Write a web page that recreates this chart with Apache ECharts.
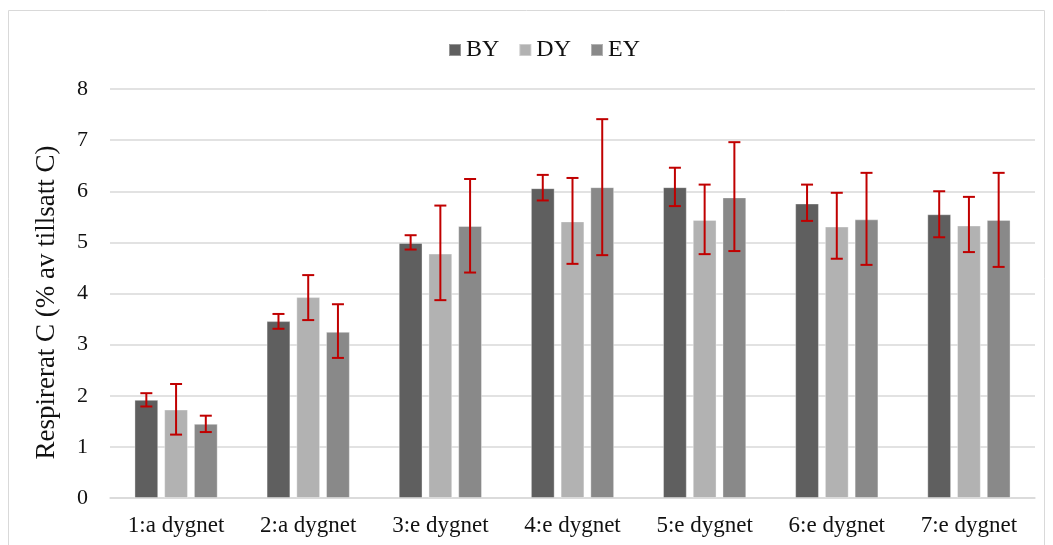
<!DOCTYPE html>
<html>
<head>
<meta charset="utf-8">
<script src="https://cdn.jsdelivr.net/npm/echarts@6/dist/echarts.min.js"></script>
<style>
  html, body { margin: 0; padding: 0; background: #fff; }
  #chart { width: 1053px; height: 545px; }
</style>
</head>
<body>
<div id="chart"></div>
<script>
  var days = ['1:a dygnet', '2:a dygnet', '3:e dygnet', '4:e dygnet', '5:e dygnet', '6:e dygnet', '7:e dygnet'];
  var seriesNames = ['BY', 'DY', 'EY'];
  var colors = ['#5f5f5f', '#b2b2b2', '#898989'];

  var by = [1.92, 3.46, 4.99, 6.06, 6.08, 5.76, 5.55];
  var dy = [1.73, 3.93, 4.78, 5.41, 5.44, 5.31, 5.33];
  var ey = [1.45, 3.25, 5.32, 6.08, 5.88, 5.45, 5.44];

  // error bars: [low, high]
  var byErr = [[1.79, 2.05], [3.31, 3.60], [4.86, 5.14], [5.82, 6.32], [5.71, 6.46], [5.42, 6.13], [5.10, 6.00]];
  var dyErr = [[1.24, 2.23], [3.48, 4.36], [3.87, 5.72], [4.58, 6.26], [4.77, 6.13], [4.68, 5.97], [4.81, 5.89]];
  var eyErr = [[1.29, 1.61], [2.74, 3.79], [4.41, 6.24], [4.75, 7.41], [4.83, 6.96], [4.56, 6.36], [4.52, 6.36]];

  var chart = echarts.init(document.getElementById('chart'))

  var barW = 0.18, barGap = 0.25
  function errSeries (errs, idx) {
    return {
      type: 'custom',
      name: seriesNames[idx] + ' err',
      z: 10,
      data: errs.map(function (e, i) { return [i, e[0], e[1]] }),
      renderItem: function (params, api) {
        var band = api.size([1, 0])[0]
        var off = (idx - 1) * band * barW * (1 + barGap)
        var lo = api.coord([api.value(0), api.value(1)])
        var hi = api.coord([api.value(0), api.value(2)])
        var x = lo[0] + off
        var hw = 6
        var st = { stroke: '#c00000', lineWidth: 2 }
        return {
          type: 'group',
          children: [
            { type: 'line', shape: { x1: x, y1: hi[1], x2: x, y2: lo[1] }, style: st },
            { type: 'line', shape: { x1: x - hw, y1: hi[1], x2: x + hw, y2: hi[1] }, style: st },
            { type: 'line', shape: { x1: x - hw, y1: lo[1], x2: x + hw, y2: lo[1] }, style: st }
          ]
        }
      }
    }
  }

  function barSeries (vals, idx) {
    return {
      name: seriesNames[idx],
      type: 'bar',
      data: vals,
      barWidth: (barW * 100) + '%',
      barGap: (barGap * 100) + '%',
      itemStyle: { color: colors[idx], borderColor: 'rgba(255,255,255,0.35)', borderWidth: 1 }
    }
  }

  var option = {
    animation: false,
    textStyle: { fontFamily: 'Liberation Serif' },
    graphic: [{
      type: 'rect',
      shape: { x: 8.5, y: 10.5, width: 1036, height: 545 },
      style: { fill: 'none', stroke: '#d9d9d9', lineWidth: 1 },
      silent: true
    }],
    legend: {
      data: seriesNames,
      top: 33,
      left: 443,
      itemWidth: 12,
      itemHeight: 12,
      itemGap: 19,
      icon: 'rect',
      textStyle: { fontFamily: 'Liberation Serif', fontSize: 24, color: '#111' }
    },
    grid: { left: 110, right: 18, top: 89, bottom: 47 },
    xAxis: {
      type: 'category',
      data: days,
      axisTick: { show: false },
      axisLine: { lineStyle: { color: '#d9d9d9', width: 1.5 } },
      axisLabel: { fontFamily: 'Liberation Serif', fontSize: 23, color: '#111', margin: 16 }
    },
    yAxis: {
      type: 'value',
      min: 0,
      max: 8,
      interval: 1,
      name: 'Respirerat C (% av tillsatt C)',
      nameLocation: 'middle',
      nameGap: 50,
      nameTextStyle: { fontFamily: 'Liberation Serif', fontSize: 27, color: '#111', padding: [0, 18, 0, 0] },
      axisLabel: { fontFamily: 'Liberation Serif', fontSize: 22, color: '#111', margin: 22 },
      splitLine: { lineStyle: { color: '#d9d9d9', width: 1.5 } }
    },
    series: [
      barSeries(by, 0),
      barSeries(dy, 1),
      barSeries(ey, 2),
      errSeries(byErr, 0),
      errSeries(dyErr, 1),
      errSeries(eyErr, 2)
    ]
  }
  option && chart.setOption(option)
</script>
</body>
</html>
